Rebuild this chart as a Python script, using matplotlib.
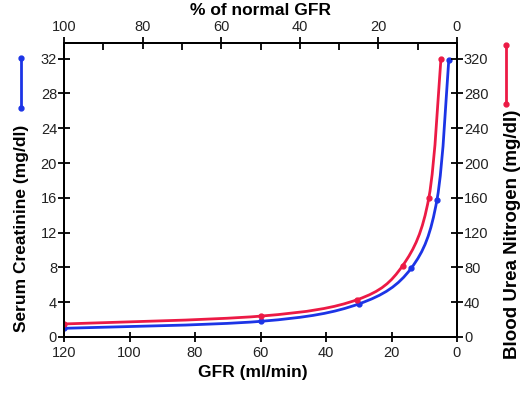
"""
Serum creatinine and blood urea nitrogen versus GFR.
"""

import matplotlib
matplotlib.use("Agg")
import matplotlib.pyplot as plt
from matplotlib.path import Path
from matplotlib.patches import PathPatch
from matplotlib.lines import Line2D

plt.rcParams["font.family"] = ["Liberation Sans", "DejaVu Sans"]

# data
gfr_creat = [120, 60, 30, 14, 6.1, 2.5]
creatinine = [1.0, 1.8, 3.8, 7.9, 15.8, 31.9]

gfr_bun = [120, 60, 30.4, 16.6, 8.6, 4.9]
bun = [15, 24, 43, 82, 160, 320]

gfr_ticks = [120, 100, 80, 60, 40, 20, 0]
pct_major = [100, 80, 60, 40, 20, 0]
pct_minor = [90, 70, 50, 30, 10]
creat_ticks = [0, 4, 8, 12, 16, 20, 24, 28, 32]
bun_ticks = [0, 40, 80, 120, 160, 200, 240, 280, 320]

BLUE = "#1c34e6"
RED = "#ec1a45"


def smooth_path(xs, ys):
    """Catmull-Rom curve through the points, as cubic Bezier segments."""
    pts = list(zip(xs, ys))
    n = len(pts)
    verts = [pts[0]]
    codes = [Path.MOVETO]
    for i in range(n - 1):
        p0 = pts[i - 1] if i > 0 else pts[i]
        p1 = pts[i]
        p2 = pts[i + 1]
        p3 = pts[i + 2] if i + 2 < n else pts[i + 1]
        c1 = (p1[0] + (p2[0] - p0[0]) / 6, p1[1] + (p2[1] - p0[1]) / 6)
        c2 = (p2[0] - (p3[0] - p1[0]) / 6, p2[1] - (p3[1] - p1[1]) / 6)
        verts += [c1, c2, p2]
        codes += [Path.CURVE4] * 3
    return Path(verts, codes)


fig = plt.figure(figsize=(5.23, 3.93), dpi=100)
ax = fig.add_axes([0.1224, 0.1425, 0.7514, 0.748])
ax2 = ax.twinx()
ax3 = ax.twiny()

ax.set_xlim(120, 0)
ax.set_ylim(0, 33.8)
ax2.set_ylim(0, 338)
ax3.set_xlim(100, 0)

# curves
ax.add_patch(PathPatch(smooth_path(gfr_creat, creatinine), fill=False,
                       edgecolor=BLUE, lw=2.0, zorder=3))
ax.plot(gfr_creat, creatinine, "o", color=BLUE, ms=3.5, zorder=4)
ax2.add_patch(PathPatch(smooth_path(gfr_bun, bun), fill=False,
                        edgecolor=RED, lw=2.0, zorder=3))
ax2.plot(gfr_bun, bun, "o", color=RED, ms=3.5, zorder=4)

# axes styling
for a in (ax, ax2, ax3):
    for s in a.spines.values():
        s.set_linewidth(1.3)

TS = 10.5
ax.set_xticks(gfr_ticks)
ax.set_yticks(creat_ticks)
ax.tick_params(axis="x", direction="inout", length=7, width=1.3,
               labelsize=TS, pad=3, labelcolor="#222222")
ax.tick_params(axis="y", direction="inout", length=8, width=1.3,
               labelsize=TS, pad=1, labelcolor="#222222")
ax2.set_yticks(bun_ticks)
ax2.tick_params(axis="y", direction="inout", length=8, width=1.3,
                labelsize=TS, pad=1, labelcolor="#222222")
ax3.set_xticks(pct_major)
ax3.set_xticks(pct_minor, minor=True)
ax3.tick_params(axis="x", which="major", direction="inout", length=8,
                width=1.3, labelsize=TS, pad=2.5, labelcolor="#222222")
ax3.tick_params(axis="x", which="minor", direction="in", length=5, width=1.3)

LS = 12.5
ax.set_xlabel("GFR (ml/min)", fontsize=LS, fontweight="bold")
ax.xaxis.set_label_coords(0.48, -0.095)
ax3.set_xlabel("% of normal GFR", fontsize=LS, fontweight="bold")
ax3.xaxis.set_label_coords(0.5, 1.097)
ax.set_ylabel("Serum Creatinine (mg/dl)", fontsize=LS, fontweight="bold")
ax.yaxis.set_label_coords(-0.09, 0.37)
ax2.set_ylabel("Blood Urea Nitrogen (mg/dl)", fontsize=13.5, fontweight="bold")
ax2.yaxis.set_label_coords(1.12, 0.35)

# little key glyphs beside the axis titles
W, H = 523, 393
fig.add_artist(Line2D([21 / W, 21 / W], [1 - 58 / H, 1 - 108 / H],
                      color=BLUE, lw=2, marker="o", ms=3.5))
fig.add_artist(Line2D([506 / W, 506 / W], [1 - 45 / H, 1 - 104 / H],
                      color=RED, lw=2, marker="o", ms=3.5))

fig.savefig("out.png", dpi=100)
